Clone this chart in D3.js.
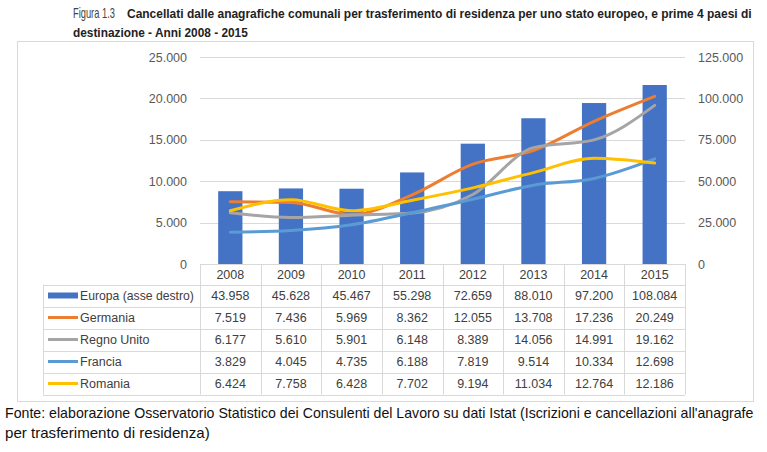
<!DOCTYPE html>
<html><head><meta charset="utf-8">
<script src="https://cdn.jsdelivr.net/npm/d3@7"></script>
<style>
body{margin:0;background:#fff;}
svg{display:block;font-family:"Liberation Sans",Arial,sans-serif;}
</style></head><body>
<svg id="c" width="767" height="452"></svg>
<script>
const years = ["2008","2009","2010","2011","2012","2013","2014","2015"];
const europa = [43958,45628,45467,55298,72659,88010,97200,108084];
const germania = [7519,7436,5969,8362,12055,13708,17236,20249];
const regnoUnito = [6177,5610,5901,6148,8389,14056,14991,19162];
const francia = [3829,4045,4735,6188,7819,9514,10334,12698];
const romania = [6424,7758,6428,7702,9194,11034,12764,12186];
const leftTicks = [0,5000,10000,15000,20000,25000];
const rightTicks = [0,25000,50000,75000,100000,125000];
const lineSeries = [
  {name:"Germania", values:germania, color:"#ED7D31"},
  {name:"Regno Unito", values:regnoUnito, color:"#A5A5A5"},
  {name:"Francia", values:francia, color:"#5B9BD5"},
  {name:"Romania", values:romania, color:"#FFC000"}
];
const barSeries = {name:"Europa (asse destro)", values:europa, color:"#4472C4"};

const fmt = v => d3.format(",")(v).replace(/,/g,".");
const svg = d3.select("#c");
const X0 = 200, X1 = 685, Y0 = 264, Y1 = 57;
const x = d3.scaleBand().domain(years).range([X0,X1]).paddingInner(0).paddingOuter(0);
const yL = d3.scaleLinear().domain([0,25000]).range([Y0,Y1]);
const yR = d3.scaleLinear().domain([0,125000]).range([Y0,Y1]);

// text placed at (px,py) and horizontally scaled to width w (imitates the narrow Calibri-like font)
function narrowText(parent, px, py, w, str, attrs, allowStretch){
  const g = parent.append("g");
  const t = g.append("text").attr("x",0).attr("y",0).text(str);
  Object.entries(attrs).forEach(([k,v])=>t.attr(k,v));
  const nat = t.node().getComputedTextLength();
  const s = allowStretch ? w/nat : Math.min(1, w/nat);
  g.attr("transform",`translate(${px},${py}) scale(${s},1)`);
  return g;
}

// title
narrowText(svg,73,18,42,"Figura 1.3",{"font-size":14,"fill":"#444"});
narrowText(svg,127,18,625,"Cancellati dalle anagrafiche comunali per trasferimento di residenza per uno stato europeo, e prime 4 paesi di",{"font-size":12.5,"font-weight":"bold","fill":"#222"});
narrowText(svg,73,37,175,"destinazione - Anni 2008 - 2015",{"font-size":12.5,"font-weight":"bold","fill":"#222"});

// frame
svg.append("rect").attr("x",17.5).attr("y",41.5).attr("width",736).attr("height",360)
  .attr("fill","none").attr("stroke","#d9d9d9");

// gridlines
svg.append("g").selectAll("line").data(leftTicks.filter(d=>d>0)).join("line")
  .attr("x1",X0).attr("x2",X1).attr("y1",d=>Math.round(yL(d))+0.5).attr("y2",d=>Math.round(yL(d))+0.5)
  .attr("stroke","#d9d9d9").attr("stroke-width",1);

// left axis
const gl = svg.append("g").attr("transform",`translate(${X0},0)`)
  .call(d3.axisLeft(yL).tickValues(leftTicks).tickFormat(fmt).tickSize(0).tickPadding(13));
gl.select(".domain").remove();
gl.selectAll("text").attr("font-size",12.5).attr("fill","#595959").attr("font-family",null);

// right axis
const gr = svg.append("g").attr("transform",`translate(${X1},0)`)
  .call(d3.axisRight(yR).tickValues(rightTicks).tickFormat(fmt).tickSize(0).tickPadding(13));
gr.select(".domain").remove();
gr.selectAll("text").attr("font-size",12.5).attr("fill","#595959").attr("font-family",null);

// bars
const bw = x.bandwidth()*0.4;
svg.append("g").selectAll("rect").data(barSeries.values).join("rect")
  .attr("x",(d,i)=>x(years[i])+x.bandwidth()/2-bw/2)
  .attr("width",bw)
  .attr("y",d=>yR(d)).attr("height",d=>Y0-yR(d))
  .attr("fill",barSeries.color);

// lines
const line = d3.line().x((d,i)=>x(years[i])+x.bandwidth()/2).y(d=>yL(d)).curve(d3.curveMonotoneX);
svg.append("g").selectAll("path").data(lineSeries).join("path")
  .attr("d",d=>line(d.values)).attr("fill","none").attr("stroke",d=>d.color)
  .attr("stroke-width",3).attr("stroke-linejoin","round").attr("stroke-linecap","round");

// data table
const rowH = 22, hdrTop = 264, hdrH = 20.5, legX = 43;
const rows = [barSeries, ...lineSeries];
const tg = svg.append("g");
const rowTop = i => hdrTop + hdrH + i*rowH;
const gridColor = "#d9d9d9";
tg.append("line").attr("x1",X0).attr("x2",X1).attr("y1",hdrTop+0.5).attr("y2",hdrTop+0.5).attr("stroke",gridColor);
for(let i=0;i<=rows.length;i++){
  tg.append("line").attr("x1",legX).attr("x2",X1).attr("y1",Math.round(rowTop(i))+0.5).attr("y2",Math.round(rowTop(i))+0.5).attr("stroke",gridColor);
}
years.forEach((y)=>{
  const xx = Math.round(x(y))+0.5;
  tg.append("line").attr("x1",xx).attr("x2",xx).attr("y1",hdrTop).attr("y2",rowTop(rows.length)).attr("stroke",gridColor);
});
tg.append("line").attr("x1",X1+0.5).attr("x2",X1+0.5).attr("y1",hdrTop).attr("y2",rowTop(rows.length)).attr("stroke",gridColor);
tg.append("line").attr("x1",legX+0.5).attr("x2",legX+0.5).attr("y1",rowTop(0)).attr("y2",rowTop(rows.length)).attr("stroke",gridColor);
tg.selectAll("text.h").data(years).join("text").attr("class","h")
  .attr("x",d=>x(d)+x.bandwidth()/2).attr("y",hdrTop+hdrH/2+4.5).attr("text-anchor","middle")
  .attr("font-size",12.5).attr("fill","#404040").text(d=>d);
rows.forEach((r,ri)=>{
  const cy = rowTop(ri)+rowH/2;
  if(ri===0){
    tg.append("rect").attr("x",48).attr("y",cy-3).attr("width",30).attr("height",6).attr("fill",r.color);
  } else {
    tg.append("line").attr("x1",48).attr("x2",78).attr("y1",cy).attr("y2",cy).attr("stroke",r.color).attr("stroke-width",3);
  }
  narrowText(tg,80,cy+4.5,114,r.name,{"font-size":12.5,"fill":"#404040"});
  tg.selectAll(null).data(r.values).join("text")
    .attr("x",(d,i)=>x(years[i])+x.bandwidth()/2).attr("y",cy+4.5).attr("text-anchor","middle")
    .attr("font-size",12.5).attr("fill","#404040").text(d=>fmt(d));
});

// source
narrowText(svg,5,418,749,"Fonte: elaborazione Osservatorio Statistico dei Consulenti del Lavoro su dati Istat (Iscrizioni e cancellazioni all'anagrafe",{"font-size":14,"fill":"#111"},true);
narrowText(svg,5,438,205,"per trasferimento di residenza)",{"font-size":14,"fill":"#111"},true);
</script></body></html>
